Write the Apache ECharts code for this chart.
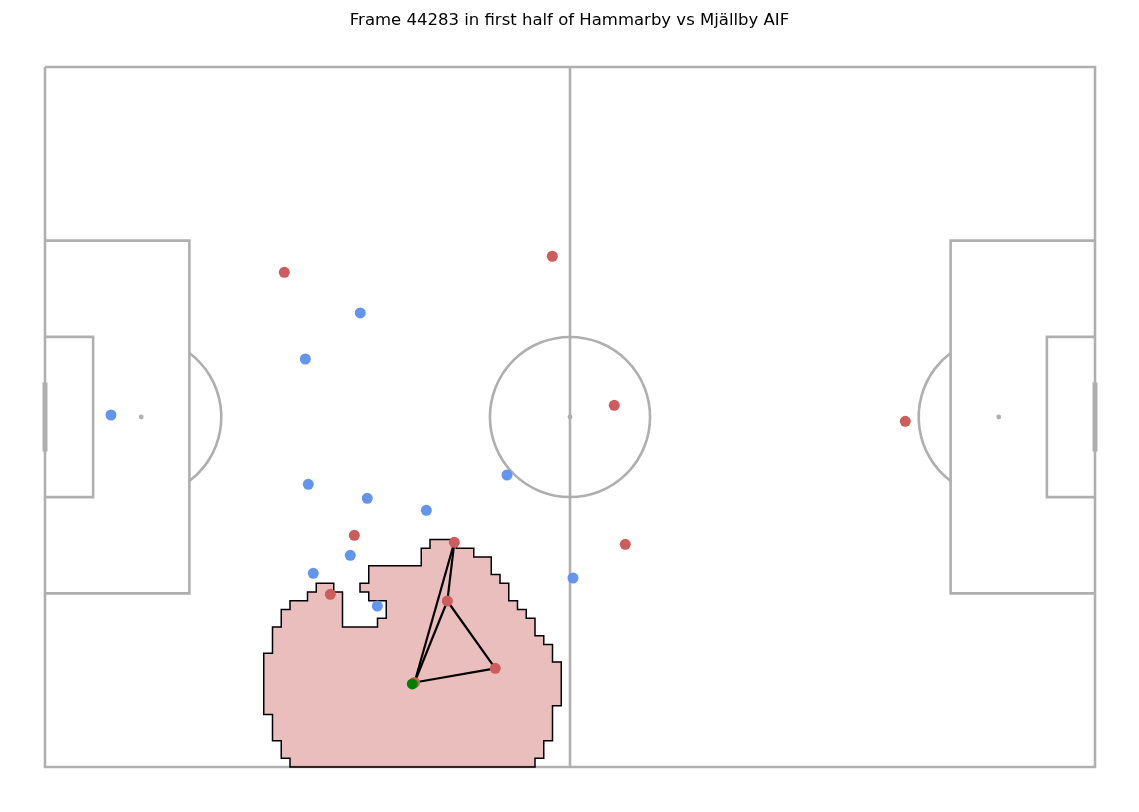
<!DOCTYPE html>
<html>
<head>
<meta charset="utf-8">
<script src="https://cdn.jsdelivr.net/npm/echarts@6/dist/echarts.min.js"></script>
<style>
  html, body { margin: 0; padding: 0; background: #ffffff; }
  #chart { width: 1139px; height: 812px; }
</style>
</head>
<body>
<div id="chart"></div>
<script>
// ---------------- data (pitch units, x along length, y from top) ----------------
const titleText = 'Frame 44283 in first half of Hammarby vs Mjällby AIF';

// Red team (attacking, incl. ball carrier)
const redX = [27.35, 57.98, 65.06, 98.32, 35.35, 46.78, 66.32, 32.61, 45.98, 51.46, 42.23];
const redY = [23.46, 21.63, 38.66, 40.49, 53.52, 54.32, 54.55, 60.26, 61.03, 68.72, 70.34];

// Blue team
const blueX = [7.54, 36.03, 29.75, 30.09, 36.83, 43.58, 52.80, 34.89, 30.66, 37.98, 60.34];
const blueY = [39.77, 28.11, 33.37, 47.69, 49.29, 50.66, 46.63, 55.81, 57.86, 61.60, 58.40];

// Ball
const ballX = [41.98];
const ballY = [70.51];

// Passing links (indices into red arrays)
const linkFrom = [10, 5, 8, 8, 9];
const linkTo   = [5, 8, 10, 9, 10];

// Controlled-space region outline
const polyX = [28,28,27,27,26,26,25,25,26,26,27,27,28,28,30,30,31,31,33,33,34,34,38,38,39,39,37,37,36,36,37,37,43,43,44,44,47,47,49,49,51,51,52,52,53,53,54,54,55,55,56,56,57,57,58,58,59,59,58,58,57,57,56,56];
const polyY = [80,79,79,77,77,74,74,67,67,64,64,62,62,61,61,60,60,59,59,60,60,64,64,63,63,61,61,60,60,59,59,57,57,55,55,54,54,55,55,56,56,58,58,59,59,61,61,62,62,63,63,65,65,66,66,68,68,73,73,77,77,79,79,80];

// ---------------- pitch geometry ----------------
const PL = 120, PW = 80;
const LINE = '#afafaf';
const CIRCLE_R = 9.15;
const BOX_D = 16.5, BOX_W = 40.32;
const SIX_D = 5.5, SIX_W = 18.32;
const SPOT = 11;
const GOAL_W = 7.32;

function renderPitch(params, api) {
  const c = p => api.coord(p);
  const st = { stroke: LINE, lineWidth: 2.6, fill: null, lineJoin: 'miter' };
  const poly = pts => ({ type: 'polyline', shape: { points: pts.map(c) }, style: st });
  const r = api.size([CIRCLE_R, 0])[0];
  const mid = PW / 2;
  const ch = [];
  ch.push(poly([[0,0],[PL,0],[PL,PW],[0,PW],[0,0]]));
  ch.push(poly([[PL/2,0],[PL/2,PW]]));
  [[0, 1], [PL, -1]].forEach(([gx, d]) => {
    ch.push(poly([[gx, mid - BOX_W/2],[gx + d*BOX_D, mid - BOX_W/2],[gx + d*BOX_D, mid + BOX_W/2],[gx, mid + BOX_W/2]]));
    ch.push(poly([[gx, mid - SIX_W/2],[gx + d*SIX_D, mid - SIX_W/2],[gx + d*SIX_D, mid + SIX_W/2],[gx, mid + SIX_W/2]]));
    const sp = c([gx + d*SPOT, mid]);
    ch.push({ type: 'circle', shape: { cx: sp[0], cy: sp[1], r: 2.4 }, style: { fill: LINE } });
    const a = Math.acos((BOX_D - SPOT) / CIRCLE_R);
    const start = d > 0 ? -a : Math.PI - a;
    ch.push({ type: 'arc', shape: { cx: sp[0], cy: sp[1], r: r, startAngle: start, endAngle: start + 2*a, clockwise: true }, style: st });
    const g1 = c([gx, mid - GOAL_W/2]), g2 = c([gx, mid + GOAL_W/2]);
    ch.push({ type: 'line', shape: { x1: g1[0], y1: g1[1], x2: g2[0], y2: g2[1] }, style: { stroke: LINE, lineWidth: 5, lineCap: 'square' } });
  });
  const cc = c([PL/2, mid]);
  ch.push({ type: 'circle', shape: { cx: cc[0], cy: cc[1], r: r }, style: st });
  ch.push({ type: 'circle', shape: { cx: cc[0], cy: cc[1], r: 2.4 }, style: { fill: LINE } });
  return { type: 'group', children: ch };
}

function renderRegion(params, api) {
  const pts = polyX.map((x, i) => api.coord([x, polyY[i]]));
  return { type: 'polygon', shape: { points: pts },
           style: { fill: 'rgba(205,92,92,0.4)', stroke: '#000000', lineWidth: 1.5, lineJoin: 'miter' } };
}

const zip = (xs, ys) => xs.map((x, i) => [x, ys[i]]);
const linkData = linkFrom.map((f, i) => ({ coords: [[redX[f], redY[f]], [redX[linkTo[i]], redY[linkTo[i]]]] }));

const chart = echarts.init(document.getElementById('chart'), null, { renderer: 'canvas' });
chart.setOption({
  animation: false,
  backgroundColor: '#ffffff',
  title: {
    text: titleText, left: 'center', top: 7,
    textStyle: { fontFamily: 'DejaVu Sans', fontSize: 16.5, fontWeight: 'normal', color: '#000000' }
  },
  grid: { left: 45, right: 44, top: 67, bottom: 45 },
  xAxis: { type: 'value', min: 0, max: PL, show: false },
  yAxis: { type: 'value', min: 0, max: PW, inverse: true, show: false },
  series: [
    { type: 'custom', name: 'pitch', data: [[0, 0]], renderItem: renderPitch, clip: false, z: 1, silent: true },
    { type: 'custom', name: 'region', data: [[0, 0]], renderItem: renderRegion, clip: false, z: 2, silent: true },
    { type: 'lines', coordinateSystem: 'cartesian2d', data: linkData, z: 3, silent: true,
      lineStyle: { color: '#000000', width: 2.2, opacity: 1 } },
    { type: 'scatter', name: 'Red', data: zip(redX, redY), symbolSize: 11, z: 4,
      itemStyle: { color: '#cd5c5c', opacity: 1 } },
    { type: 'scatter', name: 'Blue', data: zip(blueX, blueY), symbolSize: 11, z: 4,
      itemStyle: { color: '#6495ed', opacity: 1 } },
    { type: 'scatter', name: 'Ball', data: zip(ballX, ballY), symbolSize: 11, z: 5,
      itemStyle: { color: '#008000', opacity: 1 } }
  ]
});
</script>
</body>
</html>
